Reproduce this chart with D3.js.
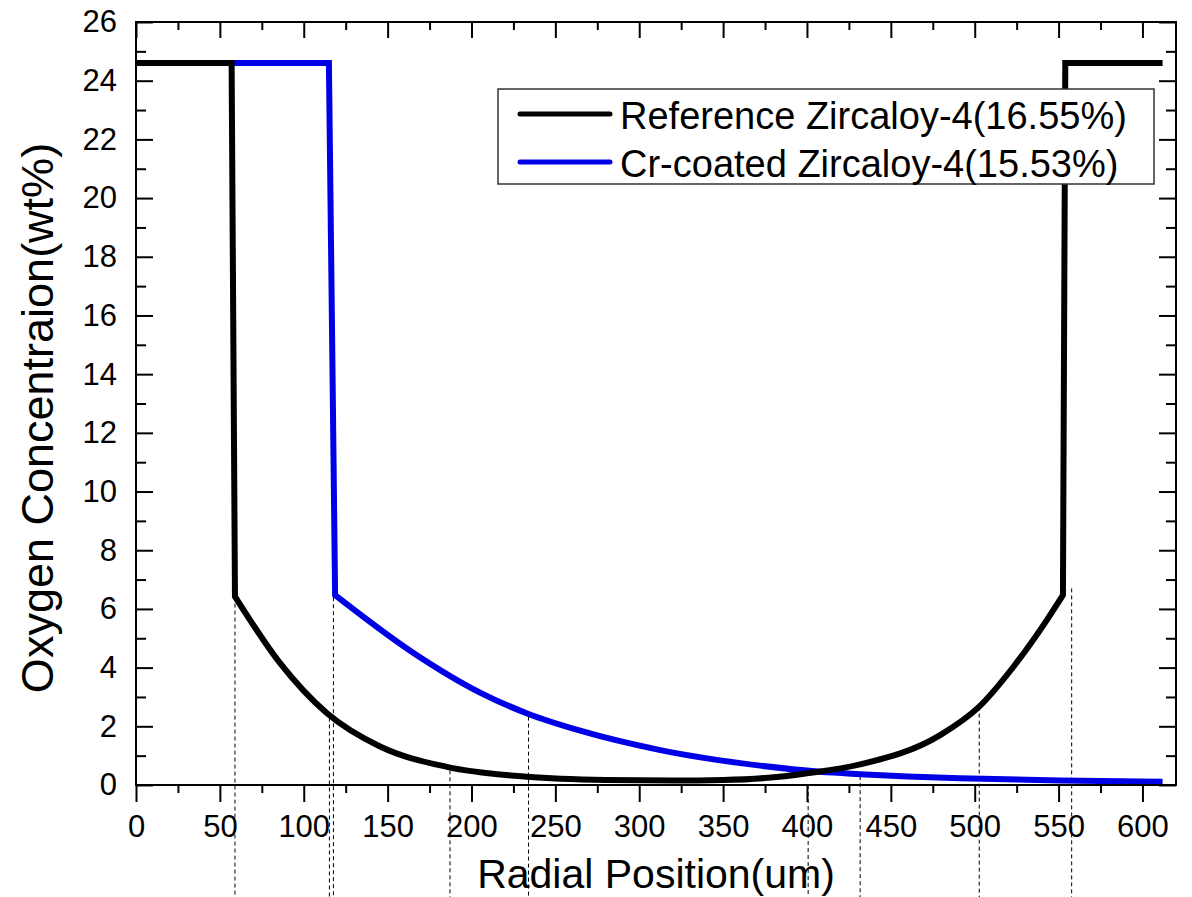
<!DOCTYPE html>
<html>
<head>
<meta charset="utf-8">
<script src="https://cdn.jsdelivr.net/npm/d3@7"></script>
<style>
  body { margin: 0; background: #fff; }
  text { font-family: "Liberation Sans", Arial, sans-serif; fill: #000; }
</style>
</head>
<body>
<div id="canvas"></div>
<script>
// ---- data ----
const seriesNames = ['Reference Zircaloy-4(16.55%)', 'Cr-coated Zircaloy-4(15.53%)'];
const seriesColors = ['#000000', '#0000e6'];

// reference Zircaloy-4 (radial position um, wt%)
const refX = [0, 57, 59, 85.9, 113.7, 145.5, 185.3, 233, 280, 320, 350, 383.5, 400, 431.7, 479.4, 502.7, 523.1, 543, 552.6, 554, 612];
const refY = [24.6, 24.6, 6.42, 4.15, 2.45, 1.31, 0.62, 0.28, 0.17, 0.15, 0.17, 0.28, 0.4, 0.7, 1.7, 2.67, 4.03, 5.62, 6.47, 24.6, 24.6];

// Cr-coated Zircaloy-4
const crX = [0, 115, 118.7, 165.4, 205.1, 234, 264.8, 312.5, 372, 407.9, 431.7, 460, 491, 551, 612];
const crY = [24.6, 24.6, 6.47, 4.5, 3.15, 2.42, 1.85, 1.19, 0.66, 0.45, 0.37, 0.29, 0.23, 0.15, 0.11];

// dashed marker lines (x position, value where they start)
const dashX = [59, 115.3, 117.7, 187.2, 234, 400.7, 431.7, 502.7, 557.8];
const dashTop = [6.42, 2.3, 6.4, 0.5, 2.33, 0, 0.3, 2.67, 6.7];

const xMajor = d3.range(0, 601, 50);
const xMinor = d3.range(25, 620, 50);
const yMajor = d3.range(0, 27, 2);
const yMinor = d3.range(1, 26, 2);

// ---- layout ----
const W = 1192, H = 897;
const margin = {left: 136, top: 22, right: 16, bottom: 112};

const x = d3.scaleLinear().domain([0, 620]).range([margin.left, W - margin.right]);
const y = d3.scaleLinear().domain([0, 26]).range([H - margin.bottom, margin.top]);

const svg = d3.select('#canvas').append('svg')
  .attr('width', W).attr('height', H);

// dashed guides go below everything
svg.append('g')
  .selectAll('line')
  .data(dashX.map((d, i) => ({x: d, top: dashTop[i]})))
  .join('line')
  .attr('x1', d => x(d.x)).attr('x2', d => x(d.x))
  .attr('y1', d => y(d.top)).attr('y2', H)
  .attr('stroke', '#000').attr('stroke-width', 1)
  .attr('stroke-dasharray', '4,3');

// ---- curves ----
// straight segments for the plateaus / steps, smooth curve for the diffusion part
const lin = d3.line().x(d => x(d[0])).y(d => y(d[1]));
const smooth = d3.line().x(d => x(d[0])).y(d => y(d[1])).curve(d3.curveMonotoneX);

function profilePath(data, i0, i1) {
  let p = lin(data.slice(0, i0 + 1));
  p += smooth(data.slice(i0, i1 + 1)).replace(/^M/, 'L');
  if (i1 < data.length - 1) p += lin(data.slice(i1)).replace(/^M/, 'L');
  return p;
}

const crData = crX.map((d, i) => [d, crY[i]]);
const refData = refX.map((d, i) => [d, refY[i]]);

svg.append('path')
  .attr('d', profilePath(crData, 2, crData.length - 1))
  .attr('fill', 'none')
  .attr('stroke', seriesColors[1]).attr('stroke-width', 6);

svg.append('path')
  .attr('d', profilePath(refData, 2, refData.length - 3))
  .attr('fill', 'none')
  .attr('stroke', seriesColors[0]).attr('stroke-width', 6);

// ---- axes ----
const styleAxis = g => {
  g.select('.domain').remove();
  g.selectAll('.tick line').attr('stroke', '#000').attr('stroke-width', 2);
  g.selectAll('text').style('font-size', '31px').attr('fill', '#000');
};

svg.append('g').attr('transform', `translate(0,${y(0)})`)
  .call(d3.axisBottom(x).tickValues(xMajor).tickSize(17).tickPadding(13).tickFormat(d3.format('d')))
  .call(styleAxis);
svg.append('g').attr('transform', `translate(0,${y(0)})`)
  .call(d3.axisBottom(x).tickValues(xMinor).tickSize(8).tickFormat(''))
  .call(styleAxis);

svg.append('g').attr('transform', `translate(0,${y(26)})`)
  .call(d3.axisTop(x).tickValues(xMajor).tickSize(-16).tickFormat(''))
  .call(styleAxis);
svg.append('g').attr('transform', `translate(0,${y(26)})`)
  .call(d3.axisTop(x).tickValues(xMinor).tickSize(-8).tickFormat(''))
  .call(styleAxis);

svg.append('g').attr('transform', `translate(${x(0)},0)`)
  .call(d3.axisLeft(y).tickValues(yMajor).tickSize(-17).tickPadding(19).tickFormat(d3.format('d')))
  .call(styleAxis);
svg.append('g').attr('transform', `translate(${x(0)},0)`)
  .call(d3.axisLeft(y).tickValues(yMinor).tickSize(-10).tickFormat(''))
  .call(styleAxis);

svg.append('g').attr('transform', `translate(${x(620)},0)`)
  .call(d3.axisRight(y).tickValues(yMajor).tickSize(-17).tickFormat(''))
  .call(styleAxis);
svg.append('g').attr('transform', `translate(${x(620)},0)`)
  .call(d3.axisRight(y).tickValues(yMinor).tickSize(-10).tickFormat(''))
  .call(styleAxis);

// frame
svg.append('rect')
  .attr('x', x(0)).attr('y', y(26))
  .attr('width', x(620) - x(0)).attr('height', y(0) - y(26))
  .attr('fill', 'none').attr('stroke', '#000').attr('stroke-width', 2);

// ---- axis titles ----
svg.append('text')
  .attr('x', (x(0) + x(620)) / 2).attr('y', 888)
  .attr('text-anchor', 'middle')
  .style('font-size', '41px')
  .text('Radial Position(um)');

svg.append('text')
  .attr('transform', `translate(53,418) rotate(-90)`)
  .attr('text-anchor', 'middle')
  .style('font-size', '45px')
  .text('Oxygen Concentraion(wt%)');

// ---- legend ----
const legend = svg.append('g');
legend.append('rect')
  .attr('x', 498).attr('y', 89).attr('width', 656).attr('height', 95)
  .attr('fill', '#fff').attr('stroke', '#333').attr('stroke-width', 1.5);

seriesNames.forEach((name, i) => {
  const ly = 114 + i * 48;
  legend.append('line')
    .attr('x1', 520).attr('x2', 610).attr('y1', ly).attr('y2', ly)
    .attr('stroke', seriesColors[i]).attr('stroke-width', 5)
    .attr('stroke-linecap', 'round');
  legend.append('text')
    .attr('x', 620).attr('y', ly + 15)
    .style('font-size', '38px')
    .text(name);
});
</script>
</body>
</html>
